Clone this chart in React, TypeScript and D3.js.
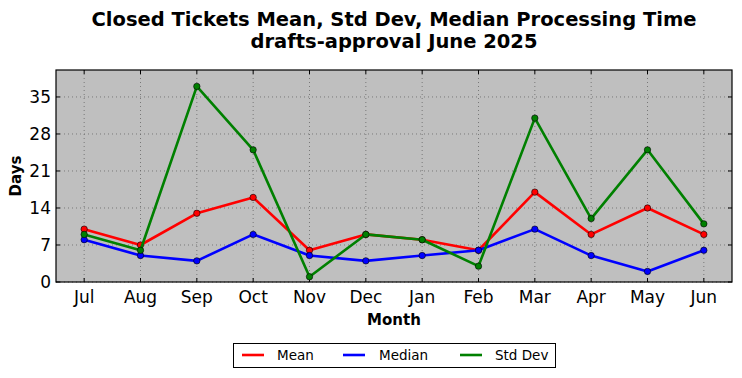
import React from "react";
import * as d3 from "d3";

const months = ["Jul","Aug","Sep","Oct","Nov","Dec","Jan","Feb","Mar","Apr","May","Jun"];
const meanVals = [10, 7, 13, 16, 6, 9, 8, 6, 17, 9, 14, 9];
const medianVals = [8, 5, 4, 9, 5, 4, 5, 6, 10, 5, 2, 6];
const stdVals = [9, 6, 37, 25, 1, 9, 8, 3, 31, 12, 25, 11];
const yTicks = [0, 7, 14, 21, 28, 35];
const titleLines = ["Closed Tickets Mean, Std Dev, Median Processing Time", "drafts-approval June 2025"];

const series = [
  { name: "Mean", values: meanVals, color: "#ff0000" },
  { name: "Median", values: medianVals, color: "#0000ff" },
  { name: "Std Dev", values: stdVals, color: "#008000" },
];

const W = 742, H = 378;
const L = 56, R = 732, T = 70, B = 282;
const font = "DejaVu Sans, sans-serif";

export default function App() {
  const x = d3.scaleLinear().domain([-0.5, 11.5]).range([L, R]);
  const y = d3.scaleLinear().domain([0, 40.1]).range([B, T]);
  const line = d3.line<number>().x((_, i) => x(i)).y((d) => y(d));
  const legendItems = [
    { lx: 242, tx: 277 },
    { lx: 343, tx: 379 },
    { lx: 460, tx: 495 },
  ];
  return (
    <svg width={W} height={H} style={{ position: "absolute", left: 0, top: 0, background: "#fff" }} fontFamily={font}>
      {titleLines.map((t, i) => (
        <text key={i} x={(L + R) / 2} y={26 + i * 22} textAnchor="middle" fontSize={19.5} fontWeight="bold">{t}</text>
      ))}
      <rect x={L} y={T} width={R - L} height={B - T} fill="#bfbfbf" />
      {months.map((m, i) => (
        <line key={"gx" + i} x1={x(i)} x2={x(i)} y1={T} y2={B} stroke="#666" strokeWidth={0.8} strokeDasharray="1,3" />
      ))}
      {yTicks.map((v) => (
        <line key={"gy" + v} x1={L} x2={R} y1={y(v)} y2={y(v)} stroke="#666" strokeWidth={0.8} strokeDasharray="1,3" />
      ))}
      {months.map((m, i) => (
        <g key={"tx" + i}>
          <line x1={x(i)} x2={x(i)} y1={B} y2={B - 4} stroke="#000" />
          <line x1={x(i)} x2={x(i)} y1={T} y2={T + 4} stroke="#000" />
          <text x={x(i)} y={B + 21} textAnchor="middle" fontSize={17}>{m}</text>
        </g>
      ))}
      {yTicks.map((v) => (
        <g key={"ty" + v}>
          <line x1={L} x2={L + 4} y1={y(v)} y2={y(v)} stroke="#000" />
          <line x1={R} x2={R - 4} y1={y(v)} y2={y(v)} stroke="#000" />
          <text x={L - 5} y={y(v) + 6} textAnchor="end" fontSize={17}>{v}</text>
        </g>
      ))}
      {series.map((s) => (
        <g key={s.name}>
          <path d={line(s.values) || ""} fill="none" stroke={s.color} strokeWidth={2.6} strokeLinejoin="round" />
          {s.values.map((v, i) => (
            <circle key={i} cx={x(i)} cy={y(v)} r={3.2} fill={s.color} stroke="#000" strokeWidth={0.6} />
          ))}
        </g>
      ))}
      <rect x={L} y={T} width={R - L} height={B - T} fill="none" stroke="#000" strokeWidth={1.2} />
      <text x={394} y={325} textAnchor="middle" fontSize={15} fontWeight="bold">Month</text>
      <text transform={`translate(21,${(T + B) / 2}) rotate(-90)`} textAnchor="middle" fontSize={15} fontWeight="bold">Days</text>
      <rect x={233.5} y={343.5} width={322} height={24} fill="#fff" stroke="#000" strokeWidth={1} />
      {series.map((s, i) => (
        <g key={"lg" + i}>
          <line x1={legendItems[i].lx} x2={legendItems[i].lx + 22} y1={355} y2={355} stroke={s.color} strokeWidth={2.6} />
          <text x={legendItems[i].tx} y={360} fontSize={13.5}>{s.name}</text>
        </g>
      ))}
    </svg>
  );
}
